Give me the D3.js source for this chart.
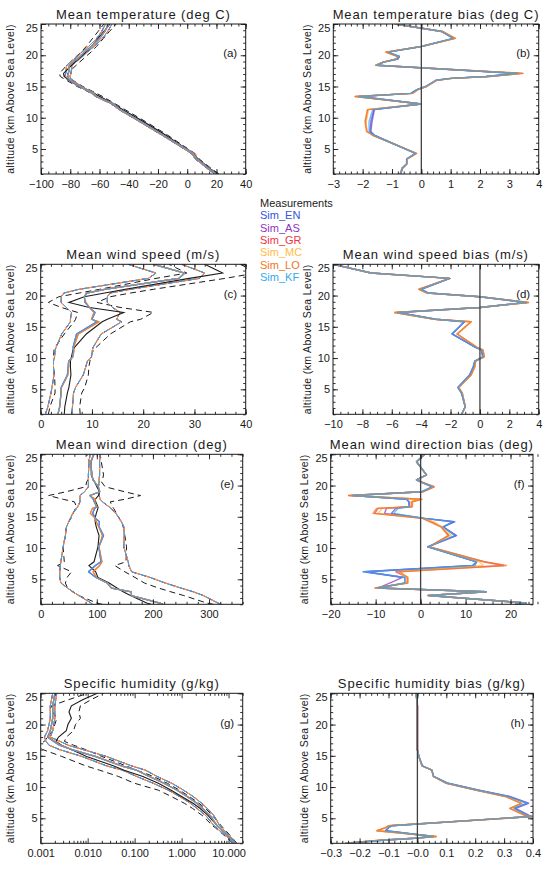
<!DOCTYPE html>
<html>
<head>
<meta charset="utf-8">
<script src="https://cdn.jsdelivr.net/npm/d3@7"></script>
<style>
  body { margin: 0; background: #fff; }
</style>
</head>
<body>
<div id="chart"></div>
<script>
// ---- models ----
var modelNames = ['Sim_EN', 'Sim_AS', 'Sim_GR', 'Sim_MC', 'Sim_LO', 'Sim_KF'];
var modelColors = ['#3355dd', '#8a35c0', '#ee3344', '#ffbb44', '#ee7722', '#33aaee'];

// ---- temperature (a, b) ----
var altT = [1, 1.9, 2.6, 3.4, 4.3, 7.2, 7.8, 9.4, 11.3, 12.2, 13.4, 13.9, 14.5, 15.0, 16.0, 16.3, 16.6, 17.1, 18.4, 18.9, 19.4, 19.8, 20.5, 21.4, 22.7, 23.8, 25];
var tempMeas = [20.5, 15.2, 11.4, 7.0, 4.0, -14.6, -18.7, -30.0, -44.0, -50.6, -59.6, -63.8, -68.9, -73.3, -80.4, -82.3, -84.2, -84.6, -79.1, -76.9, -74.5, -72.6, -69.2, -65.6, -61.0, -57.1, -52.8];
var tempMeasLo = [19.3, 14.0, 10.2, 5.8, 2.8, -15.9, -20.0, -31.4, -45.5, -52.2, -61.4, -65.6, -70.7, -75.2, -82.6, -84.7, -86.8, -87.4, -82.3, -80.2, -77.8, -75.9, -72.6, -69.1, -64.7, -61.0, -57.0];
var tempMeasHi = [21.7, 16.4, 12.6, 8.2, 5.2, -13.3, -17.4, -28.6, -42.5, -49.0, -57.8, -62.0, -67.1, -71.4, -78.2, -79.9, -81.6, -81.8, -75.9, -73.6, -71.2, -69.3, -65.8, -62.1, -57.3, -53.2, -48.6];
var tempSimA = [19.8, 14.55, 10.9, 6.5, 3.8, -16.2, -20.5, -31.8, -45.7, -50.6, -61.75, -64.2, -69.05, -73.15, -79.9, -81.3, -82.0, -81.3, -80.6, -78.2, -75.3, -73.35, -70.3, -65.6, -59.9, -56.4, -53.7];
var tempSimB = [19.8, 14.5, 10.9, 6.5, 3.8, -16.25, -20.55, -31.9, -45.8, -50.6, -61.85, -64.1, -69.0, -73.1, -79.9, -81.25, -81.9, -81.15, -80.65, -78.2, -75.35, -73.4, -70.4, -65.6, -59.85, -56.4, -53.7];
var tempSimLo = [18.8, 13.55, 9.9, 5.5, 2.8, -17.2, -21.5, -32.8, -46.7, -51.6, -62.75, -65.2, -70.05, -74.15, -81.3, -82.9, -83.8, -83.1, -82.4, -80.0, -77.1, -75.15, -72.1, -67.5, -61.9, -58.5, -55.9];
var tempSimHi = [20.8, 15.55, 11.9, 7.5, 4.8, -15.2, -19.5, -30.8, -44.7, -49.6, -60.75, -63.2, -68.05, -72.15, -78.5, -79.7, -80.2, -79.5, -78.8, -76.4, -73.5, -71.55, -68.5, -63.7, -57.9, -54.3, -51.5];
var biasT_EN = [-0.7, -0.65, -0.5, -0.5, -0.2, -1.6, -1.72, -1.68, -1.6, 0.0, -2.1, -0.35, -0.15, 0.15, 0.5, 1.0, 2.2, 3.3, -1.5, -1.3, -0.8, -0.75, -1.15, 0.0, 1.1, 0.7, -0.9];
var biasT_AS = [-0.7, -0.65, -0.5, -0.5, -0.2, -1.62, -1.75, -1.72, -1.62, 0.0, -2.12, -0.35, -0.15, 0.15, 0.5, 1.0, 2.2, 3.3, -1.5, -1.3, -0.8, -0.75, -1.15, 0.0, 1.1, 0.7, -0.9];
var biasT_GR = [-0.72, -0.66, -0.5, -0.48, -0.17, -1.65, -1.85, -1.9, -1.82, 0.0, -2.25, -0.3, -0.12, 0.18, 0.53, 1.05, 2.3, 3.45, -1.55, -1.3, -0.85, -0.8, -1.2, 0.0, 1.15, 0.72, -0.9];
var biasT_MC = [-0.72, -0.66, -0.5, -0.48, -0.17, -1.66, -1.86, -1.88, -1.8, 0.0, -2.23, -0.3, -0.12, 0.17, 0.52, 1.04, 2.28, 3.42, -1.55, -1.3, -0.85, -0.8, -1.2, 0.0, 1.14, 0.72, -0.9];
var biasT_LO = [-0.72, -0.66, -0.5, -0.48, -0.16, -1.66, -1.87, -1.92, -1.84, 0.0, -2.26, -0.3, -0.12, 0.18, 0.54, 1.06, 2.32, 3.47, -1.56, -1.3, -0.85, -0.8, -1.22, 0.0, 1.16, 0.72, -0.9];
var biasT_KF = [-0.7, -0.65, -0.5, -0.5, -0.2, -1.62, -1.78, -1.78, -1.66, 0.0, -2.15, -0.37, -0.15, 0.14, 0.5, 0.98, 2.2, 3.3, -1.52, -1.28, -0.8, -0.75, -1.12, 0.0, 1.08, 0.7, -0.88];

// ---- wind speed (c, d) ----
var altW = [1, 2.2, 4.4, 5.3, 7.3, 8.6, 9.5, 10.2, 11.3, 11.7, 13.85, 15.8, 16.2, 17.3, 18.1, 18.9, 19.8, 20.4, 21, 22.75, 23.6, 25];
var windMeas = [4.6, 4.7, 5.2, 5.5, 5.9, 5.8, 5.8, 6.0, 6.3, 6.6, 8.9, 12.0, 13.0, 16.2, 9.5, 5.5, 8.5, 12.5, 16.5, 29.0, 35.5, 32.0];
var windMeasLo = [1.5, 1.8, 2.8, 2.8, 2.7, 2.5, 2.5, 2.5, 2.6, 2.8, 4.6, 6.5, 6.8, 7.2, 4.0, 1.5, 3.5, 7.5, 11.5, 22.5, 28.5, 25.0];
var windMeasHi = [7.7, 7.6, 8.0, 8.6, 9.3, 9.4, 9.6, 9.8, 10.3, 10.8, 13.6, 17.5, 19.5, 22.0, 15.5, 11.0, 13.5, 17.5, 22.0, 36.0, 42.0, 39.0];
var windSimA = [3.35, 3.7, 3.95, 4.0, 5.2, 5.35, 5.45, 6.2, 6.4, 6.3, 7.0, 10.95, 10.0, 10.6, 9.5, 8.65, 8.5, 9.0, 12.5, 26.95, 28.1, 22.0];
var windSimB = [3.35, 3.7, 4.0, 4.05, 5.3, 5.45, 5.5, 6.3, 6.5, 6.4, 7.35, 11.4, 9.9, 10.4, 9.5, 8.8, 8.5, 8.9, 12.35, 26.95, 28.1, 22.0];
var windSimLo = [0.9, 1.4, 2.0, 2.2, 2.6, 2.5, 2.5, 2.7, 2.8, 3.0, 4.1, 5.8, 5.8, 6.0, 5.0, 4.0, 4.0, 4.5, 7.5, 21.0, 22.5, 17.0];
var windSimHi = [6.0, 6.2, 6.4, 6.8, 8.3, 8.8, 9.1, 9.9, 10.1, 10.2, 11.8, 15.8, 14.8, 15.5, 14.0, 13.0, 13.0, 13.5, 17.5, 31.0, 32.0, 27.5];
var biasW_A = [-1.25, -1.0, -1.25, -1.5, -0.7, -0.45, -0.35, 0.2, 0.1, -0.3, -1.9, -1.05, -3.0, -5.6, 0.0, 3.15, 0.0, -3.5, -4.0, -2.05, -7.4, -10];
var biasW_B = [-1.25, -1.0, -1.2, -1.45, -0.6, -0.35, -0.3, 0.3, 0.2, -0.2, -1.55, -0.6, -3.1, -5.8, 0.0, 3.3, 0.0, -3.6, -4.15, -2.05, -7.4, -10];

// ---- wind direction (e, f) ----
var altD = [1, 1.2, 2.4, 3.0, 3.6, 4.4, 5.3, 6.2, 7.2, 7.8, 10.2, 12.0, 13.4, 14.2, 14.75, 15.55, 16.35, 16.6, 17.4, 17.8, 18.4, 19.0, 19.8, 20.6, 20.9, 21.7, 23.8, 25];
var dirMeas = [197, 189, 160, 147, 136, 122, 102, 98, 86, 95, 102, 104, 99, 97, 97, 99, 102, 102, 98, 97, 103, 105, 100, 96, 94, 90, 90, 94];
var dirMeasLo = [110, 100, 68, 58, 48, 44, 47, 55, 30, 42, 40, 44, 46, 50, 54, 58, 62, 64, 60, 40, 14, 45, 80, 82, 84, 85, 86, 82];
var dirMeasHi = [308, 296, 255, 232, 210, 185, 168, 150, 132, 152, 153, 150, 147, 143, 140, 135, 130, 128, 124, 150, 178, 150, 115, 108, 110, 112, 108, 106];
var dirSimA = [218, 212.5, 161.8, 161.6, 126.5, 118.5, 98.5, 85.2, 97.5, 107.4, 103.6, 112, 104, 104.6, 97.9, 92.5, 96.5, 99.6, 95.4, 93.8, 88, 105.2, 102.6, 96, 93.1, 91.3, 89.1, 94.9];
var dirSimB = [218, 212.5, 161.6, 161.6, 125.8, 119.2, 99.2, 93.3, 105.1, 109.2, 103.9, 110.1, 103.5, 99, 97.4, 88.4, 92.2, 100.2, 96.2, 97.3, 87, 105.5, 103, 96, 93.1, 91.3, 89.1, 94.9];
var dirSimLo = [92, 90, 68, 57, 48, 36, 34, 34, 35, 36, 40, 44, 46, 50, 53, 57, 64, 66, 70, 70, 70, 78, 85, 85, 85, 85, 86, 88];
var dirSimHi = [322, 316, 290, 272, 250, 222, 195, 162, 157, 156, 148, 149, 148, 144, 140, 134, 125, 122, 110, 106, 104, 103, 103, 104, 104, 105, 105, 106];
var biasD_EN = [21, 23.5, 1.8, 14.6, -9.5, -3.5, -3.5, -12.8, 11.5, 12.4, 1.6, 8.0, 5.0, 7.6, 0.9, -6.5, -5.5, -2.4, -2.6, -3.2, -15.0, 0.2, 2.6, 0.0, -0.9, 1.3, -0.9, 0.9];
var biasD_AS = [21, 23.5, 1.8, 14.6, -9.5, -6.9, -4.0, -12.0, 12.0, 12.5, 1.6, 7.8, 5.0, 7.2, 0.9, -8.0, -7.6, -2.6, -2.6, -3.0, -15.2, 0.2, 2.6, 0.0, -0.9, 1.3, -0.9, 0.9];
var biasD_GR = [21, 23.5, 1.6, 14.6, -10.0, -3.0, -3.0, -5.5, 18.5, 14.0, 1.8, 6.3, 4.6, 2.5, 0.5, -10.2, -9.5, -2.0, -2.0, 0.0, -16.0, 0.5, 3.0, 0.0, -0.9, 1.3, -0.9, 0.9];
var biasD_MC = [21, 23.5, 1.6, 14.6, -9.8, -3.2, -3.2, -4.8, 14.0, 13.0, 1.8, 6.8, 4.8, 3.0, 0.6, -9.5, -8.5, -2.2, -2.2, -0.5, -15.6, 0.4, 2.8, 0.0, -0.9, 1.3, -0.9, 0.9];
var biasD_LO = [21, 23.5, 1.6, 14.6, -10.2, -2.8, -2.8, -4.7, 19.1, 14.2, 1.9, 6.1, 4.5, 2.0, 0.4, -10.6, -9.8, -1.8, -1.8, 0.3, -16.0, 0.5, 3.0, 0.0, -0.9, 1.3, -0.9, 0.9];
var biasD_KF = [21, 23.5, 1.8, 14.6, -9.6, -3.5, -3.5, -12.5, 12.0, 12.4, 1.6, 7.6, 5.0, 7.0, 0.9, -6.0, -5.0, -2.5, -2.6, -3.0, -15.2, 0.2, 2.6, 0.0, -0.9, 1.3, -0.9, 0.9];

// ---- specific humidity (g, h) ----
var altQ = [1, 1.5, 1.8, 2.1, 3.0, 3.5, 3.8, 5.3, 5.5, 6.6, 7.4, 8.5, 9.5, 10.6, 11.7, 12.7, 13.4, 14.9, 16, 16.7, 17.3, 18, 19, 20, 21, 22, 23, 24, 25];
var qMeas = [13.5, 11.8, 10.9, 9.9, 7.5, 6.4, 5.8, 3.8, 3.6, 2.45, 1.75, 1.0, 0.6, 0.32, 0.15, 0.06, 0.035, 0.0095, 0.0045, 0.0028, 0.0021, 0.0024, 0.0035, 0.0038, 0.0045, 0.004, 0.0045, 0.008, 0.016];
var qMeasLo = [12.0, 10.4, 9.5, 8.6, 6.2, 5.2, 4.6, 2.9, 2.7, 1.7, 1.15, 0.6, 0.32, 0.1, 0.045, 0.018, 0.009, 0.0028, 0.0011, 0.0008, 0.0012, 0.0014, 0.0018, 0.002, 0.0022, 0.0018, 0.0017, 0.004, 0.01];
var qMeasHi = [15.0, 13.2, 12.3, 11.2, 8.8, 7.6, 7.0, 4.7, 4.5, 3.2, 2.35, 1.45, 0.9, 0.5, 0.25, 0.11, 0.065, 0.02, 0.009, 0.005, 0.0032, 0.0035, 0.005, 0.0055, 0.007, 0.0065, 0.007, 0.012, 0.022];
var qSimA = [13.26, 11.68, 10.89, 9.96, 7.39, 6.3, 5.71, 4.2, 3.98, 2.79, 2.13, 1.32, 0.81, 0.425, 0.206, 0.11, 0.052, 0.0145, 0.0045, 0.0025, 0.0019, 0.0014, 0.0016, 0.0017, 0.0018, 0.0018, 0.0018, 0.0019, 0.002];
var qSimB = [13.25, 11.67, 10.89, 9.97, 7.36, 6.29, 5.7, 4.2, 3.97, 2.77, 2.11, 1.3, 0.8, 0.42, 0.205, 0.11, 0.051, 0.0145, 0.0047, 0.0026, 0.002, 0.0015, 0.0016, 0.0017, 0.0018, 0.0018, 0.0018, 0.0019, 0.002];
var qSimLo = [12.3, 10.7, 9.9, 9.0, 6.5, 5.5, 4.9, 3.4, 3.2, 2.1, 1.55, 0.9, 0.52, 0.25, 0.11, 0.055, 0.025, 0.0075, 0.0025, 0.0015, 0.0013, 0.0012, 0.0014, 0.0015, 0.0016, 0.0016, 0.0016, 0.0017, 0.0018];
var qSimHi = [14.3, 12.7, 11.9, 10.9, 8.3, 7.1, 6.5, 5.0, 4.8, 3.5, 2.7, 1.75, 1.1, 0.62, 0.3, 0.17, 0.085, 0.025, 0.008, 0.0038, 0.0026, 0.0016, 0.0018, 0.0019, 0.002, 0.002, 0.002, 0.0021, 0.0022];
var biasQ_A = [-0.24, -0.12, -0.01, 0.055, -0.11, -0.1, -0.09, 0.395, 0.38, 0.335, 0.38, 0.315, 0.21, 0.105, 0.056, 0.05, 0.017, 0.005, 0, 0, 0, 0, 0, 0, 0, 0, 0, -0.002, -0.005];
var biasQ_AS = [-0.24, -0.12, -0.01, 0.055, -0.11, -0.1, -0.09, 0.395, 0.385, 0.34, 0.385, 0.32, 0.215, 0.107, 0.056, 0.05, 0.017, 0.005, 0, 0, 0, 0, 0, 0, 0, 0, 0, -0.002, -0.005];
var biasQ_B = [-0.25, -0.13, -0.01, 0.065, -0.14, -0.11, -0.1, 0.4, 0.37, 0.32, 0.36, 0.305, 0.205, 0.1, 0.055, 0.05, 0.016, 0.005, 0, 0, 0, 0, 0, 0, 0, 0, 0, -0.002, -0.005];

// ---- tick values and labels ----
var altTicks = [5, 10, 15, 20, 25];
var ticksA = [-100, -80, -60, -40, -20, 0, 20, 40];
var labelsA = ['\u2212100', '\u221280', '\u221260', '\u221240', '\u221220', '0', '20', '40'];
var ticksB = [-3, -2, -1, 0, 1, 2, 3, 4];
var labelsB = ['\u22123', '\u22122', '\u22121', '0', '1', '2', '3', '4'];
var ticksC = [0, 10, 20, 30, 40];
var labelsC = ['0', '10', '20', '30', '40'];
var ticksD = [-10, -8, -6, -4, -2, 0, 2, 4];
var labelsD = ['\u221210', '\u22128', '\u22126', '\u22124', '\u22122', '0', '2', '4'];
var ticksE = [0, 100, 200, 300];
var labelsE = ['0', '100', '200', '300'];
var ticksF = [-20, -10, 0, 10, 20];
var labelsF = ['\u221220', '\u221210', '0', '10', '20'];
var ticksG = [0.001, 0.01, 0.1, 1, 10];
var labelsG = ['0.001', '0.010', '0.100', '1.000', '10.000'];
var ticksH = [-0.3, -0.2, -0.1, 0, 0.1, 0.2, 0.3, 0.4];
var labelsH = ['\u22120.3', '\u22120.2', '\u22120.1', '\u22120.0', '0.1', '0.2', '0.3', '0.4'];

var FONT = '"Liberation Sans", Arial, sans-serif';
var INK = '#1a1a1a';

var svg = d3.select('#chart').append('svg')
    .attr('width', 547)
    .attr('height', 872)
    .style('background', '#fff');

// panel setup: box = [left, right, top, bottom] in px
var panels = [
    {id: 'a', box: [41, 245.7, 24, 174], dom: [-100, 40], ticks: ticksA, labels: labelsA, minor: 5,
        alt: altT, meas: tempMeas, measLo: tempMeasLo, measHi: tempMeasHi,
        sims: [tempSimA, tempSimA, tempSimB, tempSimB, tempSimB, tempSimA], simLo: tempSimLo, simHi: tempSimHi,
        title: 'Mean temperature (deg C)', tag: '(a)'},
    {id: 'b', box: [333.3, 538.7, 24, 174], dom: [-3, 4], ticks: ticksB, labels: labelsB, minor: 0.2,
        alt: altT, sims: [biasT_EN, biasT_AS, biasT_GR, biasT_MC, biasT_LO, biasT_KF], zero: true,
        title: 'Mean temperature bias (deg C)', tag: '(b)'},
    {id: 'c', box: [40.7, 245.7, 264.3, 414.3], dom: [0, 40], ticks: ticksC, labels: labelsC, minor: 2,
        alt: altW, meas: windMeas, measLo: windMeasLo, measHi: windMeasHi,
        sims: [windSimA, windSimA, windSimB, windSimB, windSimB, windSimA], simLo: windSimLo, simHi: windSimHi,
        title: 'Mean wind speed (m/s)', tag: '(c)'},
    {id: 'd', box: [333, 538.7, 264.3, 414.3], dom: [-10, 4], ticks: ticksD, labels: labelsD, minor: 0.5,
        alt: altW, sims: [biasW_A, biasW_A, biasW_B, biasW_B, biasW_B, biasW_A], zero: true,
        title: 'Mean wind speed bias (m/s)', tag: '(d)'},
    {id: 'e', box: [40.7, 242.7, 454.3, 604.3], dom: [0, 360], ticks: ticksE, labels: labelsE, minor: 20,
        alt: altD, meas: dirMeas, measLo: dirMeasLo, measHi: dirMeasHi,
        sims: [dirSimA, dirSimA, dirSimB, dirSimB, dirSimB, dirSimA], simLo: dirSimLo, simHi: dirSimHi,
        title: 'Mean wind direction (deg)', tag: '(e)'},
    {id: 'f', box: [330.7, 533, 454.3, 604.3], dom: [-20, 25], ticks: ticksF, labels: labelsF, minor: 2,
        alt: altD, sims: [biasD_EN, biasD_AS, biasD_GR, biasD_MC, biasD_LO, biasD_KF], zero: true,
        title: 'Mean wind direction bias (deg)', tag: '(f)'},
    {id: 'g', box: [40.7, 242.7, 693.3, 843.3], dom: [0.001, 20], log: true, ticks: ticksG, labels: labelsG,
        alt: altQ, meas: qMeas, measLo: qMeasLo, measHi: qMeasHi,
        sims: [qSimA, qSimA, qSimB, qSimB, qSimB, qSimA], simLo: qSimLo, simHi: qSimHi,
        title: 'Specific humidity (g/kg)', tag: '(g)'},
    {id: 'h', box: [330.7, 533, 693.3, 843.3], dom: [-0.3, 0.4], ticks: ticksH, labels: labelsH, minor: 0.02,
        alt: altQ, sims: [biasQ_A, biasQ_AS, biasQ_B, biasQ_B, biasQ_B, biasQ_A], zero: true,
        title: 'Specific humidity bias (g/kg)', tag: '(h)'}
];

function minorValues(p) {
    var out = [];
    if (p.log) {
        for (var e = -3; e <= 1; e++) {
            for (var m = 2; m < 10; m++) {
                var v = m * Math.pow(10, e);
                if (v <= p.dom[1]) out.push(v);
            }
        }
        return out;
    }
    var n = Math.round((p.dom[1] - p.dom[0]) / p.minor);
    for (var i = 0; i <= n; i++) out.push(p.dom[0] + i * p.minor);
    return out;
}

function styleAxis(sel) {
    sel.select('.domain').remove();
    sel.attr('font-family', FONT).attr('font-size', 11);
    sel.selectAll('line').attr('stroke', INK).attr('stroke-width', 0.9);
    sel.selectAll('text').attr('fill', INK);
}

function drawPanel(p) {
    var left = p.box[0], right = p.box[1], top = p.box[2], bottom = p.box[3];
    var x = (p.log ? d3.scaleLog() : d3.scaleLinear()).domain(p.dom).range([left, right]);
    var y = d3.scaleLinear().domain([1, 25]).range([bottom, top]);

    var g = svg.append('g').attr('class', 'panel-' + p.id);

    g.append('clipPath').attr('id', 'clip-' + p.id)
        .append('rect')
        .attr('x', left).attr('y', top)
        .attr('width', right - left).attr('height', bottom - top);

    var plot = g.append('g').attr('clip-path', 'url(#clip-' + p.id + ')');

    var line = d3.line()
        .x(function (d) { return x(d[0]); })
        .y(function (d) { return y(d[1]); });
    function pathOf(vals) {
        return line(vals.map(function (v, i) { return [v, p.alt[i]]; }));
    }

    if (p.meas) {
        // measurement spread (black dashed)
        [p.measLo, p.measHi].forEach(function (vals) {
            plot.append('path')
                .attr('d', pathOf(vals))
                .attr('fill', 'none')
                .attr('stroke', INK)
                .attr('stroke-width', 1)
                .attr('stroke-dasharray', '6,4');
        });
        // simulation spread (coloured dashed)
        p.sims.forEach(function (s, i) {
            [p.simLo, p.simHi].forEach(function (vals) {
                plot.append('path')
                    .attr('d', pathOf(vals))
                    .attr('fill', 'none')
                    .attr('stroke', modelColors[i])
                    .attr('stroke-width', 1)
                    .attr('stroke-dasharray', '6,4')
                    .attr('stroke-dashoffset', i * 1.7);
            });
        });
        plot.append('path')
            .attr('d', pathOf(p.meas))
            .attr('fill', 'none')
            .attr('stroke', INK)
            .attr('stroke-width', 1.1);
    }

    p.sims.forEach(function (s, i) {
        plot.append('path')
            .attr('d', pathOf(s))
            .attr('fill', 'none')
            .attr('stroke', modelColors[i])
            .attr('stroke-opacity', 0.72)
            .attr('stroke-width', p.zero ? 1.45 : 1.2)
            .attr('stroke-linejoin', 'round');
    });

    if (p.zero) {
        plot.append('line')
            .attr('x1', x(0)).attr('x2', x(0))
            .attr('y1', y(1)).attr('y2', y(25))
            .attr('stroke', '#404040')
            .attr('stroke-width', 1.3);
    }

    // ticks on all four sides, pointing inward
    var minors = minorValues(p);
    var yMinor = d3.range(1, 26);

    g.append('g').attr('transform', 'translate(0,' + bottom + ')')
        .call(d3.axisBottom(x).tickValues(p.ticks).tickSize(-5).tickPadding(6)
            .tickFormat(function (d, i) { return p.labels[i]; }))
        .call(styleAxis);
    g.append('g').attr('transform', 'translate(0,' + bottom + ')')
        .call(d3.axisBottom(x).tickValues(minors).tickSize(-2.5).tickFormat(''))
        .call(styleAxis);
    g.append('g').attr('transform', 'translate(0,' + top + ')')
        .call(d3.axisTop(x).tickValues(p.ticks).tickSize(-5).tickFormat(''))
        .call(styleAxis);
    g.append('g').attr('transform', 'translate(0,' + top + ')')
        .call(d3.axisTop(x).tickValues(minors).tickSize(-2.5).tickFormat(''))
        .call(styleAxis);

    var yAx = g.append('g').attr('transform', 'translate(' + left + ',0)')
        .call(d3.axisLeft(y).tickValues(altTicks).tickSize(-5).tickPadding(3))
        .call(styleAxis);
    yAx.selectAll('.tick text').filter(function (d) { return d === 25; }).attr('y', 3.5);
    g.append('g').attr('transform', 'translate(' + left + ',0)')
        .call(d3.axisLeft(y).tickValues(yMinor).tickSize(-2.5).tickFormat(''))
        .call(styleAxis);
    g.append('g').attr('transform', 'translate(' + right + ',0)')
        .call(d3.axisRight(y).tickValues(altTicks).tickSize(-5).tickFormat(''))
        .call(styleAxis);
    g.append('g').attr('transform', 'translate(' + right + ',0)')
        .call(d3.axisRight(y).tickValues(yMinor).tickSize(-2.5).tickFormat(''))
        .call(styleAxis);

    g.append('rect')
        .attr('x', left).attr('y', top)
        .attr('width', right - left).attr('height', bottom - top)
        .attr('fill', 'none')
        .attr('stroke', INK)
        .attr('stroke-width', 1);

    // texts
    g.append('text')
        .attr('x', (left + right) / 2)
        .attr('y', top - 5.5)
        .attr('text-anchor', 'middle')
        .attr('font-family', FONT)
        .attr('font-size', 13)
        .attr('letter-spacing', 0.9)
        .attr('fill', INK)
        .text(p.title);

    var yl = left < 200 ? 10.5 : left - 26;
    g.append('text')
        .attr('transform', 'translate(' + yl + ',' + ((top + bottom) / 2) + ') rotate(-90)')
        .attr('dy', '0.35em')
        .attr('text-anchor', 'middle')
        .attr('font-family', FONT)
        .attr('font-size', 10.5)
        .attr('letter-spacing', 0.35)
        .attr('fill', INK)
        .text('altitude (km Above Sea Level)');

    g.append('text')
        .attr('x', right - 8.5)
        .attr('y', y(20) + 2)
        .attr('text-anchor', 'end')
        .attr('font-family', FONT)
        .attr('font-size', 11.5)
        .attr('fill', INK)
        .text(p.tag);
}

panels.forEach(drawPanel);

// legend between the first two rows
var legend = svg.append('g').attr('transform', 'translate(260,0)');
var legendItems = [{name: 'Measurements', color: INK}].concat(modelNames.map(function (n, i) {
    return {name: n, color: modelColors[i]};
}));
legend.selectAll('text')
    .data(legendItems)
    .enter()
    .append('text')
    .attr('x', 0)
    .attr('y', function (d, i) { return 207 + i * 12.35; })
    .attr('font-family', FONT)
    .attr('font-size', 11)
    .attr('fill', function (d) { return d.color; })
    .text(function (d) { return d.name; });
</script>
</body>
</html>
